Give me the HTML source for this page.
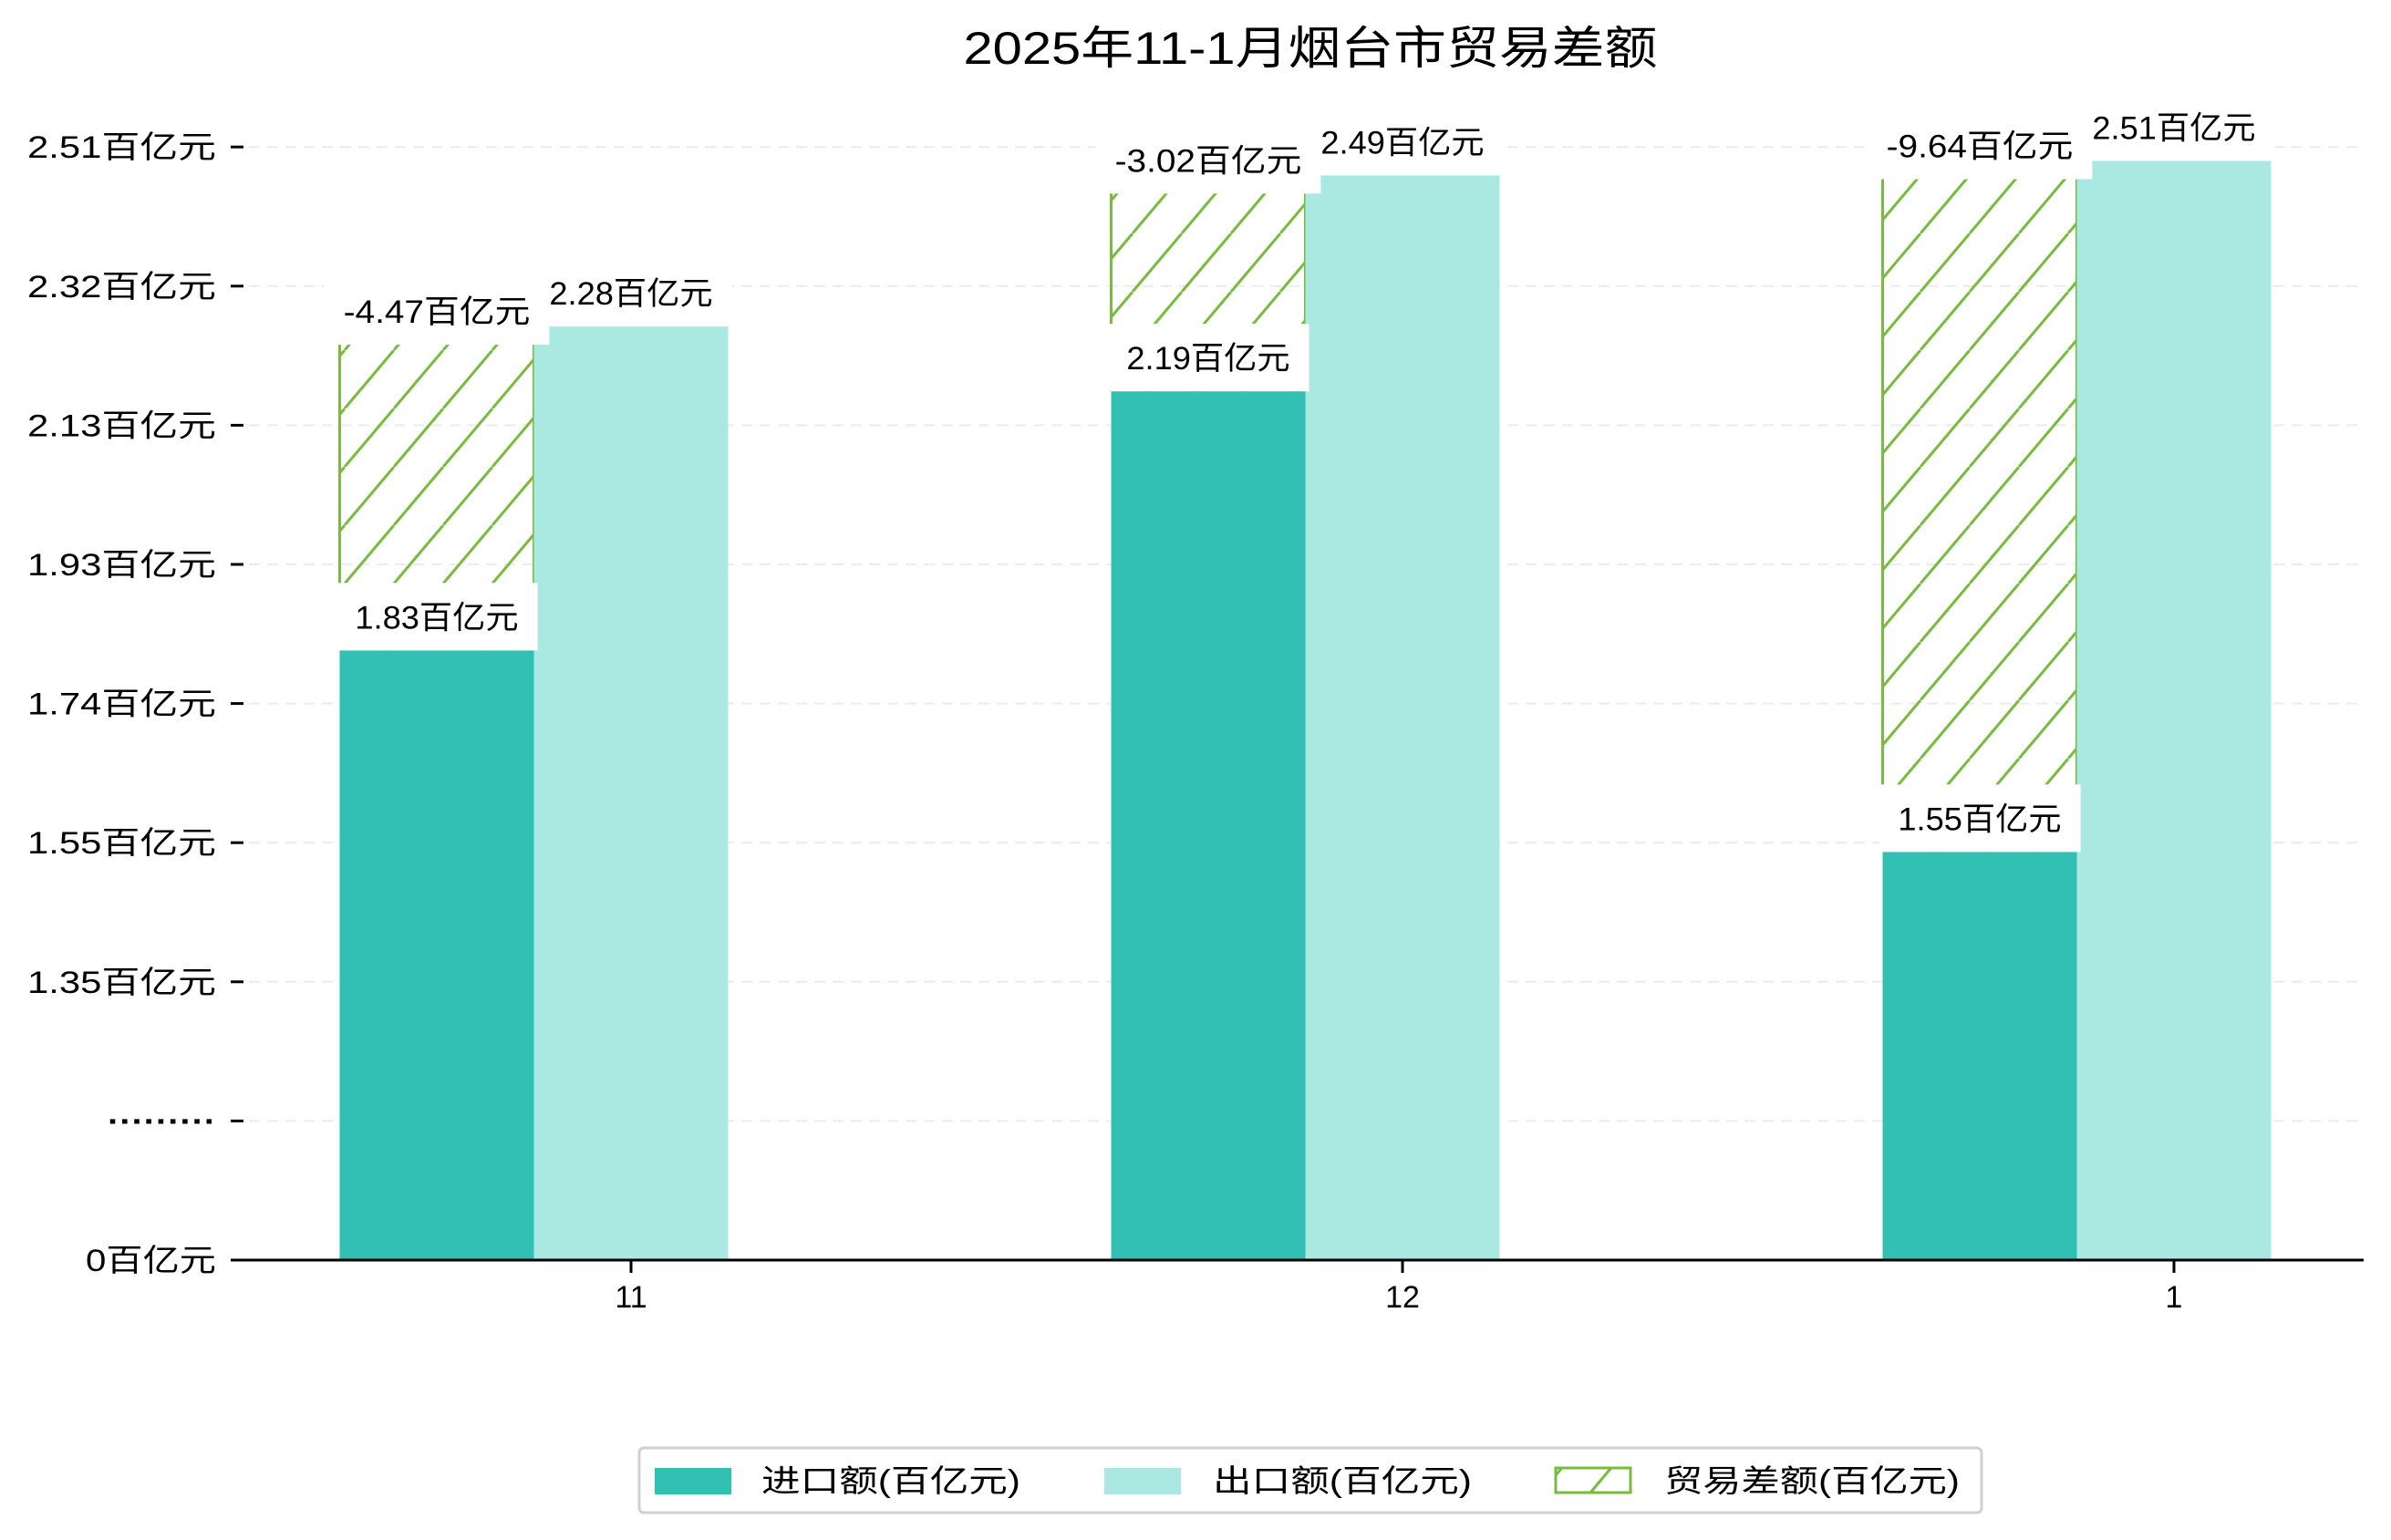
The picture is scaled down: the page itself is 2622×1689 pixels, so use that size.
<!DOCTYPE html>
<html><head><meta charset="utf-8">
<style>
html,body{margin:0;padding:0;background:#fff;}
svg{display:block;font-family:"Liberation Sans","Noto Sans CJK SC",sans-serif;}
</style></head>
<body>
<svg id="chart" width="2622" height="1689" viewBox="0 0 2622 1689" xmlns="http://www.w3.org/2000/svg">
<defs>
<pattern id="hatch" patternUnits="userSpaceOnUse" width="54" height="64">
<line x1="-54" y1="64" x2="0" y2="0" stroke="#77bc3f" stroke-width="3"/>
<line x1="0" y1="64" x2="54" y2="0" stroke="#77bc3f" stroke-width="3"/>
<line x1="54" y1="64" x2="108" y2="0" stroke="#77bc3f" stroke-width="3"/>
</pattern>
</defs>
<text x="1437" y="70" font-size="50" text-anchor="middle" textLength="761" lengthAdjust="spacingAndGlyphs" fill="#000">2025年11-1月烟台市贸易差额</text>
<g id="grid"></g>
<g id="bars"></g>
<g id="labels"></g>
<g id="axes"></g>
<g transform="translate(0,-8)">
<rect x="701" y="1596" width="1472" height="71" rx="5" fill="#fff" stroke="#d0d0d0" stroke-width="3"/>
<rect x="718" y="1618" width="84" height="29" fill="#31c0b3"/>
<text x="835" y="1644" font-size="34" textLength="284" lengthAdjust="spacingAndGlyphs">进口额(百亿元)</text>
<rect x="1211" y="1618" width="84" height="29" fill="#aae8e2"/>
<text x="1330" y="1644" font-size="34" textLength="284" lengthAdjust="spacingAndGlyphs">出口额(百亿元)</text>
<rect x="1706" y="1618" width="82" height="27" fill="url(#hatch)" stroke="#77bc3f" stroke-width="3"/>
<text x="1825" y="1644" font-size="34" textLength="324" lengthAdjust="spacingAndGlyphs">贸易差额(百亿元)</text>
</g>
</svg>
<script>
const categories = ["11","12","1"];
const importVals = [1.83, 2.19, 1.55];
const exportVals = [2.28, 2.49, 2.51];
const balanceVals = [-4.47, -3.02, -9.64];
const tickLabels = ["0百亿元","·········","1.35百亿元","1.55百亿元","1.74百亿元","1.93百亿元","2.13百亿元","2.32百亿元","2.51百亿元"];

const NS="http://www.w3.org/2000/svg";
const base=1382, tickGap=152.6, v0=0.983, step=0.1933;
const xLeft=253, xRight=2592, x0=692, groupGap=846, bw=213;
const CH=25.6;
function y(v){return base-(v-v0)/step*tickGap;}
function xc(i){return x0+i*groupGap;}
function mk(tag,attrs,parent){const e=document.createElementNS(NS,tag);for(const k in attrs)e.setAttribute(k,attrs[k]);parent.appendChild(e);return e;}
const grid=document.getElementById('grid'),bars=document.getElementById('bars'),labels=document.getElementById('labels'),axes=document.getElementById('axes');

tickLabels.forEach((t,i)=>{
  const ty=base-i*tickGap;
  if(i>0){const g=mk('line',{x1:xLeft,x2:xRight,y1:ty,y2:ty,stroke:'#ececec','stroke-width':2,'stroke-dasharray':'12,8'},grid);
  
  }
  const tk=mk('line',{x1:253,x2:267,y1:ty,y2:ty,stroke:'#000','stroke-width':3},axes);
  
  
  const tlen = i===1 ? 119 : (i===0 ? 143 : 207);
  const tl=mk('text',{x:237,y:ty+12,'font-size':34,'text-anchor':'end',textLength:tlen,lengthAdjust:'spacingAndGlyphs','font-weight':(i===1?'bold':'normal')},axes);
  tl.textContent=t;
  
  
});

function labelBox(txt,cx,bottom,name){
  const tw=txt.length*CH, w=tw+42, h=74;
  const r=mk('rect',{x:cx-w/2,y:bottom-h,width:w,height:h,fill:'#fff'},labels);
  
  
  const t=mk('text',{x:cx,y:bottom-24,'font-size':35,'text-anchor':'middle',textLength:tw,lengthAdjust:'spacingAndGlyphs'},labels);
  t.textContent=txt;
  
  
}

categories.forEach((c,i)=>{
  const cx=xc(i), ix=cx-1.5*bw, ex=cx-0.5*bw;
  const yi=y(importVals[i]), ye=y(exportVals[i]);
  const h=mk('rect',{x:ix,y:ye,width:bw,height:yi-ye,fill:'url(#hatch)'},bars);
  
  
  mk('line',{x1:ix,x2:ix,y1:ye,y2:yi,stroke:'#77bc3f','stroke-width':3},bars);
  mk('line',{x1:ix+bw,x2:ix+bw,y1:ye,y2:yi,stroke:'#77bc3f','stroke-width':3},bars);
  const bi=mk('rect',{x:ix,y:yi,width:bw,height:base-yi,fill:'#31c0b3'},bars);
  
  
  const be=mk('rect',{x:ex,y:ye,width:bw,height:base-ye,fill:'#aae8e2'},bars);
  
  
  labelBox(exportVals[i].toFixed(2)+'百亿元',cx,ye,'export-label-'+c);
  labelBox(balanceVals[i].toFixed(2)+'百亿元',ix+bw/2,ye+20,'balance-label-'+c);
  labelBox(importVals[i].toFixed(2)+'百亿元',ix+bw/2,yi,'import-label-'+c);
  const xt=mk('line',{x1:cx,x2:cx,y1:base,y2:base+14,stroke:'#000','stroke-width':3},axes);
  
  
  const xl=mk('text',{x:cx,y:base+52,'font-size':34,'text-anchor':'middle'},axes);
  xl.textContent=c;
  
  
});
const ax=mk('line',{x1:xLeft,x2:xRight,y1:base,y2:base,stroke:'#000','stroke-width':3},axes);


</script>
</body></html>
